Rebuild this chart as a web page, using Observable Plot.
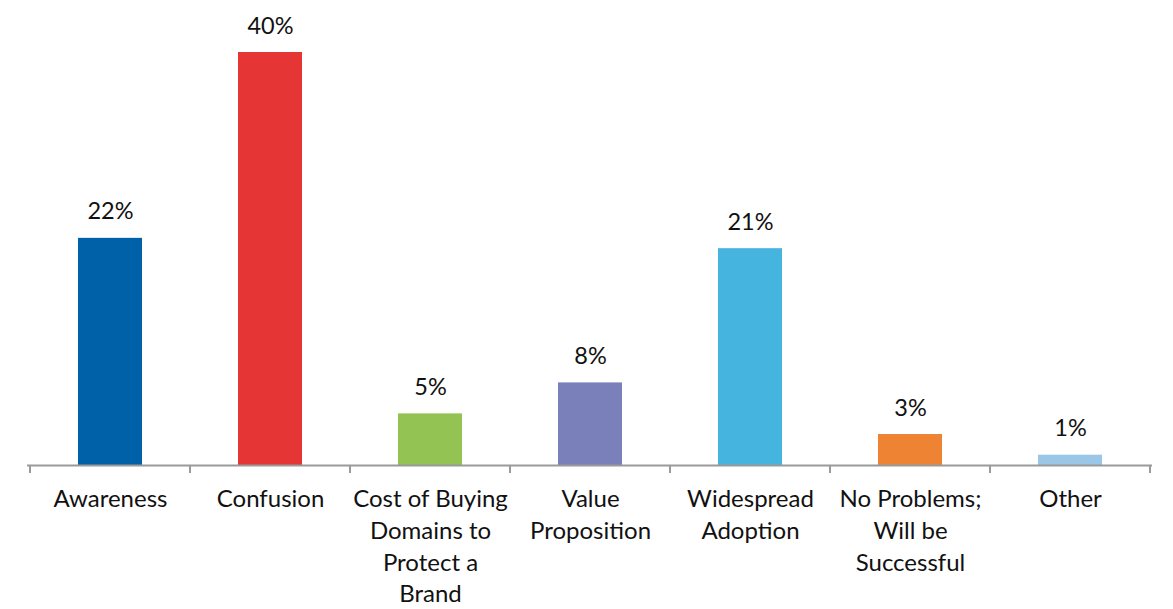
<!DOCTYPE html>
<html>
<head>
<meta charset="utf-8">
<script src="https://cdn.jsdelivr.net/npm/d3@7"></script>
<script src="https://cdn.jsdelivr.net/npm/@observablehq/plot@0.6"></script>
<style>
  html, body { margin: 0; padding: 0; background: #fff; }
  #chart svg { display: block; }
</style>
</head>
<body>
<div id="chart"></div>
<script>
const categories = ["Awareness", "Confusion", "Cost of Buying Domains to Protect a Brand", "Value Proposition", "Widespread Adoption", "No Problems; Will be Successful", "Other"];
const tickLabels = ["Awareness", "Confusion", "Cost of Buying\nDomains to\nProtect a\nBrand", "Value\nProposition", "Widespread\nAdoption", "No Problems;\nWill be\nSuccessful", "Other"];
const values = [22, 40, 5, 8, 21, 3, 1];
const valueLabels = ["22%", "40%", "5%", "8%", "21%", "3%", "1%"];
const colors = ["#0060A8", "#E53535", "#92C353", "#7A80BA", "#45B5E0", "#EE8334", "#9AC7E8"];

const data = categories.map((c, i) => ({cat: c, value: values[i], label: valueLabels[i], tick: tickLabels[i], color: colors[i]}));

const font = "Lato, 'Open Sans', sans-serif";
const plot = Plot.plot({
  width: 1173,
  height: 609,
  marginLeft: 27,
  marginRight: 21,
  marginTop: 52,
  marginBottom: 144,
  style: {fontFamily: font, background: "#fff"},
  x: {domain: categories, paddingInner: 0.6, paddingOuter: 0.3, axis: null},
  y: {domain: [0, 40], axis: null},
  marks: [
    Plot.barY(data, {x: "cat", y: "value", fill: "color"}),
    Plot.ruleY([0], {stroke: "#9a9a9a", strokeWidth: 2}),
    Plot.text(data, {x: "cat", y: "value", text: "label", lineAnchor: "bottom", dy: -19, fontSize: 23.5, fill: "#111"}),
    Plot.text(data, {x: "cat", y: () => 0, text: "tick", lineAnchor: "top", dy: 18.5, fontSize: 24, lineHeight: 1.33, fill: "#111"})
  ]
});

// category boundary tick marks below the baseline, positioned from the x scale
const xs = plot.scale("x");
const ys = plot.scale("y");
const step = xs.step;
const y0 = ys.apply(0);
const g = d3.select(plot).append("g").attr("stroke", "#9a9a9a").attr("stroke-width", 2);
const bounds = categories.map(c => xs.apply(c) + xs.bandwidth / 2 - step / 2);
bounds.push(xs.apply(categories[categories.length - 1]) + xs.bandwidth / 2 + step / 2);
bounds.forEach(b => g.append("line").attr("x1", b).attr("x2", b).attr("y1", y0).attr("y2", y0 + 8));

document.getElementById("chart").appendChild(plot);
</script>
</body>
</html>
